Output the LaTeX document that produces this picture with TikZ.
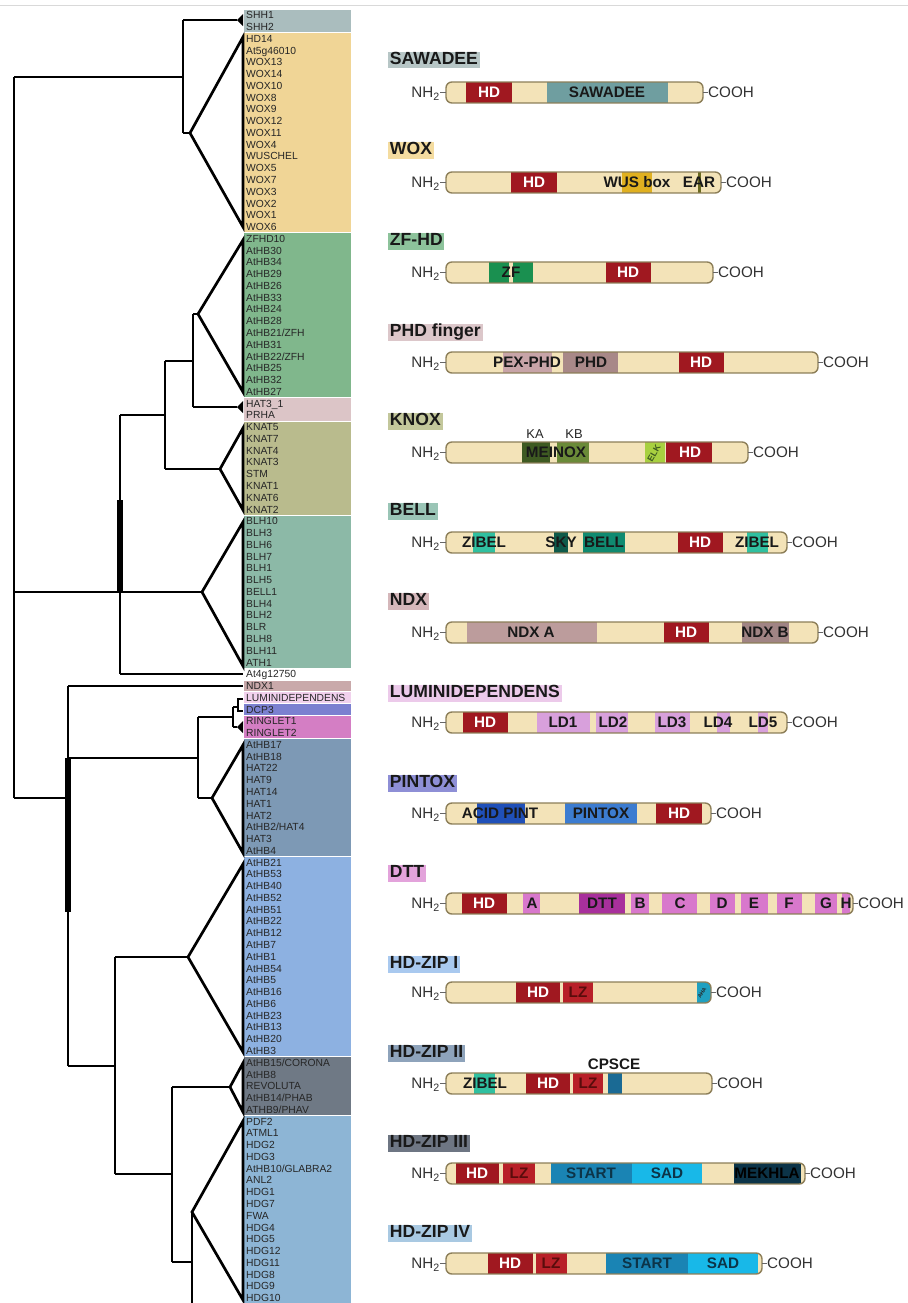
\documentclass[tikz,border=0pt]{standalone}
\usepackage{fontspec}
\setmainfont{Liberation Sans}
\usetikzlibrary{positioning}

% clade colours (tree)
\definecolor{cShh}{HTML}{AABDBE}
\definecolor{cWox}{HTML}{F0D596}
\definecolor{cZf}{HTML}{80B78C}
\definecolor{cPhd}{HTML}{DCC5C7}
\definecolor{cKnox}{HTML}{B9BB8D}
\definecolor{cBell}{HTML}{8CB9A7}
\definecolor{cNdx}{HTML}{C9A9AA}
\definecolor{cLumi}{HTML}{F1D1ED}
\definecolor{cDcp}{HTML}{7B80D0}
\definecolor{cRing}{HTML}{D47EC4}
\definecolor{cHzb}{HTML}{7D99B5}
\definecolor{cHza}{HTML}{8DB1E1}
\definecolor{cHzc}{HTML}{6F7985}
\definecolor{cHzd}{HTML}{8DB5D5}
% title boxes
\definecolor{tSaw}{HTML}{B7C6C6}
\definecolor{tWox}{HTML}{F4DCA0}
\definecolor{tZf}{HTML}{8DC39B}
\definecolor{tPhd}{HTML}{DCC7CA}
\definecolor{tKnox}{HTML}{C3C79B}
\definecolor{tBell}{HTML}{9AC5B6}
\definecolor{tNdx}{HTML}{D5B7BA}
\definecolor{tLumi}{HTML}{ECCAEA}
\definecolor{tPint}{HTML}{8E8FD6}
\definecolor{tDtt}{HTML}{E3A3DB}
\definecolor{tHza}{HTML}{A9C9EF}
\definecolor{tHzb}{HTML}{8EA3BB}
\definecolor{tHzc}{HTML}{6E7683}
\definecolor{tHzd}{HTML}{A9C9E2}
% domains
\definecolor{barFill}{HTML}{F3E3B8}
\definecolor{barEdge}{HTML}{8C7E58}
\definecolor{cHD}{HTML}{A01820}
\definecolor{cLZ}{HTML}{B82028}
\definecolor{cSaw}{HTML}{6F9EA0}
\definecolor{cWus}{HTML}{E0B020}
\definecolor{cEar}{HTML}{6A6A20}
\definecolor{cZF}{HTML}{1A9050}
\definecolor{cPex}{HTML}{C8A4A8}
\definecolor{cPhdd}{HTML}{A88888}
\definecolor{cMe}{HTML}{3E5A22}
\definecolor{cNox}{HTML}{6A8A38}
\definecolor{cElk}{HTML}{A8D040}
\definecolor{cZibel}{HTML}{30C0A0}
\definecolor{cSky}{HTML}{0E5A4A}
\definecolor{cBelld}{HTML}{108A70}
\definecolor{cNdxA}{HTML}{BC9C9C}
\definecolor{cNdxB}{HTML}{A08484}
\definecolor{cLD}{HTML}{D8A0DC}
\definecolor{cAcid}{HTML}{2050B8}
\definecolor{cPint}{HTML}{3C7CD0}
\definecolor{cDtt}{HTML}{A8309C}
\definecolor{cDl}{HTML}{D878CC}
\definecolor{cAha}{HTML}{20A0C0}
\definecolor{cCps}{HTML}{1A6A94}
\definecolor{cStart}{HTML}{1A84B4}
\definecolor{cSad}{HTML}{18B8E8}
\definecolor{cMek}{HTML}{0C3448}

\tikzset{
  branch/.style={line width=2.3pt},
  stem/.style={line width=4.5pt},
  tip/.style={fill=black},
  clade/.style={draw=white, line width=0.7pt},
  leaf/.style={anchor=west, inner sep=0pt, text height=6.3pt, text depth=0pt,
    font=\fontsize{8.8}{9}\selectfont, text=black!85},
  famtitle/.style={anchor=west, inner xsep=1.5pt, inner ysep=1pt, text height=10.5pt,
    text depth=2pt, font=\fontsize{15}{15}\selectfont\bfseries, text=black!90},
  term/.style={inner sep=0pt, text height=9.3pt, text depth=0pt,
    font=\fontsize{13}{13}\selectfont, text=black!80},
  seglab/.style={inner sep=0pt, text height=9.3pt, text depth=0pt,
    font=\fontsize{13}{13}\selectfont\bfseries, text=black!90},
  hdlab/.style={seglab, text=white},
  lzlab/.style={seglab, text={rgb,255:red,90;green,12;blue,12}},
  toplab/.style={inner sep=0pt, font=\fontsize{11}{11}\selectfont, text=black!85},
  tinylab/.style={inner sep=0pt, rotate=60, font=\fontsize{5.5}{5.5}\selectfont\bfseries},
  link/.style={line width=0.7pt, draw=black!60},
  barline/.style={draw=barEdge, line width=1.2pt, rounded corners=5pt},
}

% one protein bar: name, top y, right end x, segments x1/x2/colour
\newcommand{\protbar}[4]{%
  \begin{scope}
    \clip[rounded corners=5pt] (446,#2) rectangle (#3,#2+21);
    \fill[barFill] (446,#2) rectangle (#3,#2+21);
    \foreach \sa/\sb/\sc in {#4} {\fill[\sc] (\sa,#2) rectangle (\sb,#2+21);}
  \end{scope}
  \draw[barline] (446,#2) rectangle (#3,#2+21);
  \coordinate (#1-w) at (446,#2+10.5);
  \coordinate (#1-e) at (#3,#2+10.5);
  \node[term,anchor=east] (#1-nh) at (440,#2+10.5) {NH\textsubscript{2}};
  \node[term,anchor=west] (#1-co) at (#3+5,#2+10.5) {COOH};
  \draw[link] (#1-nh.east) -- (#1-w);
  \draw[link] (#1-e) -- (#1-co.west);
}

\begin{document}
\begin{tikzpicture}[x=0.03cm,y=-0.03cm]
\useasboundingbox (0,0) rectangle (908,1303);
\fill[white] (0,0) rectangle (908,1303);
\draw[black!15,line width=0.6pt] (0,5) -- (908,5);

% clade blocks
\foreach \fa/\fb/\fc in {0/1/cShh,2/18/cWox,19/32/cZf,33/34/cPhd,35/42/cKnox,
    43/55/cBell,57/57/cNdx,58/58/cLumi,59/59/cDcp,60/61/cRing,62/71/cHzb,
    72/88/cHza,89/93/cHzc,94/110/cHzd}
  \fill[\fc,clade] (243,15+11.77*\fa-5.88) rectangle (351,15+11.77*\fb+5.88);

% gene names
\foreach \g [count=\i from 0] in {SHH1,SHH2,
    HD14,At5g46010,WOX13,WOX14,WOX10,WOX8,WOX9,WOX12,WOX11,WOX4,WUSCHEL,WOX5,WOX7,WOX3,WOX2,WOX1,WOX6,
    ZFHD10,AtHB30,AtHB34,AtHB29,AtHB26,AtHB33,AtHB24,AtHB28,AtHB21/ZFH,AtHB31,AtHB22/ZFH,AtHB25,AtHB32,AtHB27,
    HAT3\_1,PRHA,
    KNAT5,KNAT7,KNAT4,KNAT3,STM,KNAT1,KNAT6,KNAT2,
    BLH10,BLH3,BLH6,BLH7,BLH1,BLH5,BELL1,BLH4,BLH2,BLR,BLH8,BLH11,ATH1,
    At4g12750,NDX1,LUMINIDEPENDENS,DCP3,RINGLET1,RINGLET2,
    AtHB17,AtHB18,HAT22,HAT9,HAT14,HAT1,HAT2,AtHB2/HAT4,HAT3,AtHB4,
    AtHB21,AtHB53,AtHB40,AtHB52,AtHB51,AtHB22,AtHB12,AtHB7,AtHB1,AtHB54,AtHB5,AtHB16,AtHB6,AtHB23,AtHB13,AtHB20,AtHB3,
    AtHB15/CORONA,AtHB8,REVOLUTA,AtHB14/PHAB,ATHB9/PHAV,
    PDF2,ATML1,HDG2,HDG3,AtHB10/GLABRA2,ANL2,HDG1,HDG7,FWA,HDG4,HDG5,HDG12,HDG11,HDG8,HDG9,HDG10}
  \node[leaf] (g\i) at (246,15+11.77*\i) {\g};

% tree: root
\coordinate (r-top) at (14,77);
\coordinate (r-mid) at (14,592);
\coordinate (r-bot) at (14,798);
\draw[branch] (r-top) -- (r-bot);

% SHH + WOX
\coordinate (sw) at (183,77);
\coordinate (sw-a) at (183,20);
\coordinate (sw-b) at (183,133);
\coordinate (shh) at (237,20);
\coordinate (wox) at (190,133);
\draw[branch] (r-top) -- (sw);
\draw[branch] (sw-a) -- (sw-b);
\draw[branch] (sw-a) -- (shh);
\fill[tip] (shh) -- (243,14) -- (243,26) -- cycle;
\draw[branch] (sw-b) -- (wox);
\draw[branch] (wox) -- (243,37) -- (243,227) -- cycle;

% ZF-HD, PHD, KNOX, BELL
\coordinate (m-a) at (120,415);
\coordinate (m-b) at (120,674);
\coordinate (m-s1) at (120,500);
\coordinate (m-s2) at (120,592);
\coordinate (zk) at (165,415);
\coordinate (zk-a) at (165,361);
\coordinate (zk-b) at (165,469);
\coordinate (zp) at (193,361);
\coordinate (zp-a) at (193,314);
\coordinate (zp-b) at (193,407);
\coordinate (zf) at (198,314);
\coordinate (phd) at (237,407);
\coordinate (knox) at (220,469);
\coordinate (bell) at (202,592);
\coordinate (at4) at (243,674);
\draw[branch] (m-a) -- (m-b);
\draw[stem] (m-s1) -- (m-s2);
\draw[branch] (m-a) -- (zk);
\draw[branch] (zk-a) -- (zk-b);
\draw[branch] (zk-a) -- (zp);
\draw[branch] (zp-a) -- (zp-b);
\draw[branch] (zp-a) -- (zf);
\draw[branch] (zf) -- (243,240) -- (243,392) -- cycle;
\draw[branch] (zp-b) -- (phd);
\fill[tip] (phd) -- (243,401) -- (243,413) -- cycle;
\draw[branch] (zk-b) -- (knox);
\draw[branch] (knox) -- (243,428) -- (243,510) -- cycle;
\draw[branch] (r-mid) -- (bell);
\draw[branch] (bell) -- (243,522) -- (243,666) -- cycle;
\draw[branch] (m-b) -- (at4);

% NDX, LUMINIDEPENDENS, DCP3, RINGLET, HD-ZIP
\coordinate (l) at (68,798);
\coordinate (l-a) at (68,686);
\coordinate (l-b) at (68,1066);
\coordinate (l-c) at (68,758);
\coordinate (l-s) at (68,912);
\coordinate (ndx) at (243,686);
\coordinate (lr) at (198,758);
\coordinate (lr-a) at (198,717);
\coordinate (lr-b) at (198,798);
\coordinate (lu) at (233,717);
\coordinate (lu-a) at (233,707);
\coordinate (lu-b) at (233,727);
\coordinate (lu-c) at (238,707);
\coordinate (ring) at (237,727);
\coordinate (hzb) at (212,798);
\draw[branch] (r-bot) -- (l);
\draw[branch] (l-a) -- (l-b);
\draw[stem] (l-c) -- (l-s);
\draw[branch] (l-a) -- (ndx);
\draw[branch] (l-c) -- (lr);
\draw[branch] (lr-a) -- (lr-b);
\draw[branch] (lr-a) -- (lu);
\draw[branch] (lu-a) -- (lu-b);
\draw[branch] (lu-a) -- (lu-c);
\draw[line width=1.8pt] (243,699) -- (lu-c |- 0,699) -- (lu-c |- 0,711) -- (243,711);
\draw[branch] (lu-b) -- (ring);
\fill[tip] (ring) -- (243,721) -- (243,733) -- cycle;
\draw[branch] (lr-b) -- (hzb);
\draw[branch] (hzb) -- (243,745) -- (243,853) -- cycle;

\coordinate (c1) at (115,1066);
\coordinate (c1-a) at (115,957);
\coordinate (c1-b) at (115,1174);
\coordinate (hza) at (188,957);
\coordinate (c2) at (172,1174);
\coordinate (c2-a) at (172,1087);
\coordinate (c2-b) at (172,1262);
\coordinate (hzc) at (230,1087);
\coordinate (c3) at (192,1262);
\coordinate (hzd) at (192,1212);
\coordinate (c3-end) at (192,1320);
\draw[branch] (l-b) -- (c1);
\draw[branch] (c1-a) -- (c1-b);
\draw[branch] (c1-a) -- (hza);
\draw[branch] (hza) -- (243,864) -- (243,1052) -- cycle;
\draw[branch] (c1-b) -- (c2);
\draw[branch] (c2-a) -- (c2-b);
\draw[branch] (c2-a) -- (hzc);
\draw[branch] (hzc) -- (243,1063) -- (243,1112) -- cycle;
\draw[branch] (c2-b) -- (c3);
\draw[branch] (hzd) -- (c3-end);
\draw[branch] (hzd) -- (243,1121) -- (243,1300) -- cycle;

% family titles
\node[famtitle,fill=tSaw] (t-saw) at (388,60) {SAWADEE};
\node[famtitle,fill=tWox] (t-wox) at (388,150) {WOX};
\node[famtitle,fill=tZf] (t-zf) at (388,241) {ZF-HD};
\node[famtitle,fill=tPhd] (t-phd) at (388,332) {PHD finger};
\node[famtitle,fill=tKnox] (t-knox) at (388,421) {KNOX};
\node[famtitle,fill=tBell] (t-bell) at (388,511) {BELL};
\node[famtitle,fill=tNdx] (t-ndx) at (388,601) {NDX};
\node[famtitle,fill=tLumi] (t-lumi) at (388,693) {LUMINIDEPENDENS};
\node[famtitle,fill=tPint] (t-pint) at (388,783) {PINTOX};
\node[famtitle,fill=tDtt] (t-dtt) at (388,873) {DTT};
\node[famtitle,fill=tHza] (t-hza) at (388,964) {HD-ZIP I};
\node[famtitle,fill=tHzb] (t-hzb) at (388,1053) {HD-ZIP II};
\node[famtitle,fill=tHzc] (t-hzc) at (388,1143) {HD-ZIP III};
\node[famtitle,fill=tHzd] (t-hzd) at (388,1233) {HD-ZIP IV};

% domain bars
\protbar{saw}{82}{703}{466/512/cHD,547/668/cSaw}
\node[hdlab] (saw-hd) at (489,92.5) {HD};
\node[seglab] (saw-sw) at (607,92.5) {SAWADEE};

\protbar{wox}{172}{721}{511/557/cHD,622/652/cWus,698/701/cEar}
\node[hdlab] (wox-hd) at (534,182.5) {HD};
\node[seglab] (wox-wus) at (637,182.5) {WUS box};
\node[seglab] (wox-ear) at (699,182.5) {EAR};

\protbar{zf}{262}{713}{489/533/cZF,509/513/barFill,606/651/cHD}
\node[seglab] (zf-zf) at (511,272.5) {ZF};
\node[hdlab] (zf-hd) at (628,272.5) {HD};

\protbar{phd}{352}{818}{503/552/cPex,563/618/cPhdd,679/724/cHD}
\node[seglab] (phd-pex) at (527,362.5) {PEX-PHD};
\node[seglab] (phd-phd) at (591,362.5) {PHD};
\node[hdlab] (phd-hd) at (701,362.5) {HD};

\protbar{kn}{442}{748}{522/550/cMe,557/589/cNox,645/665/cElk,666/712/cHD}
\node[toplab] (kn-ka) at (535,434) {KA};
\node[toplab] (kn-kb) at (574,434) {KB};
\node[seglab] (kn-mei) at (556,452.5) {MEINOX};
\node[tinylab,font=\fontsize{7.5}{7.5}\selectfont\bfseries,text=cMe] (kn-elk) at (654,453) {ELK};
\node[hdlab] (kn-hd) at (690,452.5) {HD};

\protbar{bl}{532}{787}{473/495/cZibel,554/568/cSky,583/625/cBelld,678/723/cHD,747/768/cZibel}
\node[seglab] (bl-zi1) at (484,542.5) {ZIBEL};
\node[seglab] (bl-sky) at (561,542.5) {SKY};
\node[seglab] (bl-bell) at (604,542.5) {BELL};
\node[hdlab] (bl-hd) at (700,542.5) {HD};
\node[seglab] (bl-zi2) at (757,542.5) {ZIBEL};

\protbar{nd}{622}{818}{467/597/cNdxA,664/709/cHD,742/789/cNdxB}
\node[seglab] (nd-a) at (531,632.5) {NDX A};
\node[hdlab] (nd-hd) at (686,632.5) {HD};
\node[seglab] (nd-b) at (765,632.5) {NDX B};

\protbar{lu}{712}{787}{463/508/cHD,537/590/cLD,596/628/cLD,655/690/cLD,717/730/cLD,758/768/cLD}
\node[hdlab] (lu-hd) at (485,722.5) {HD};
\node[seglab] (lu-1) at (563,722.5) {LD1};
\node[seglab] (lu-2) at (613,722.5) {LD2};
\node[seglab] (lu-3) at (672,722.5) {LD3};
\node[seglab] (lu-4) at (718,722.5) {LD4};
\node[seglab] (lu-5) at (763,722.5) {LD5};

\protbar{pi}{803}{711}{477/525/cAcid,565/637/cPint,656/702/cHD}
\node[seglab] (pi-acid) at (500,813.5) {ACID PINT};
\node[seglab] (pi-pint) at (601,813.5) {PINTOX};
\node[hdlab] (pi-hd) at (679,813.5) {HD};

\protbar{dt}{893}{853}{462/507/cHD,523/540/cDl,579/625/cDtt,631/649/cDl,662/697/cDl,710/735/cDl,741/768/cDl,777/802/cDl,815/837/cDl,842/850/cDl}
\node[hdlab] (dt-hd) at (484,903.5) {HD};
\node[seglab] (dt-a) at (532,903.5) {A};
\node[seglab] (dt-dtt) at (602,903.5) {DTT};
\node[seglab] (dt-b) at (640,903.5) {B};
\node[seglab] (dt-c) at (680,903.5) {C};
\node[seglab] (dt-d) at (722,903.5) {D};
\node[seglab] (dt-e) at (754,903.5) {E};
\node[seglab] (dt-f) at (789,903.5) {F};
\node[seglab] (dt-g) at (826,903.5) {G};
\node[seglab] (dt-h) at (846,903.5) {H};

\protbar{za}{982}{711}{516/560/cHD,563/593/cLZ,697/711/cAha}
\node[hdlab] (za-hd) at (538,992.5) {HD};
\node[lzlab] (za-lz) at (578,992.5) {LZ};
\node[tinylab,font=\fontsize{4.5}{4.5}\selectfont\bfseries,text=black!85] (za-aha) at (702,993) {AHA};

\protbar{zb}{1073}{712}{474/495/cZibel,526/570/cHD,573/603/cLZ,608/622/cCps}
\node[seglab] (zb-zi) at (485,1083.5) {ZIBEL};
\node[hdlab] (zb-hd) at (548,1083.5) {HD};
\node[lzlab] (zb-lz) at (588,1083.5) {LZ};
\node[seglab] (zb-cps) at (614,1064) {CPSCE};

\protbar{zc}{1163}{805}{456/499/cHD,503/535/cLZ,551/632/cStart,632/702/cSad,734/801/cMek}
\node[hdlab] (zc-hd) at (477,1173.5) {HD};
\node[lzlab] (zc-lz) at (519,1173.5) {LZ};
\node[seglab,text=cMek] (zc-st) at (591,1173.5) {START};
\node[seglab,text=cMek] (zc-sad) at (667,1173.5) {SAD};
\node[seglab,text=black] (zc-mek) at (767,1173.5) {MEKHLA};

\protbar{zd}{1253}{762}{488/533/cHD,536/567/cLZ,606/688/cStart,688/758/cSad}
\node[hdlab] (zd-hd) at (510,1263.5) {HD};
\node[lzlab] (zd-lz) at (551,1263.5) {LZ};
\node[seglab,text=cMek] (zd-st) at (647,1263.5) {START};
\node[seglab,text=cMek] (zd-sad) at (723,1263.5) {SAD};
\end{tikzpicture}
\end{document}
